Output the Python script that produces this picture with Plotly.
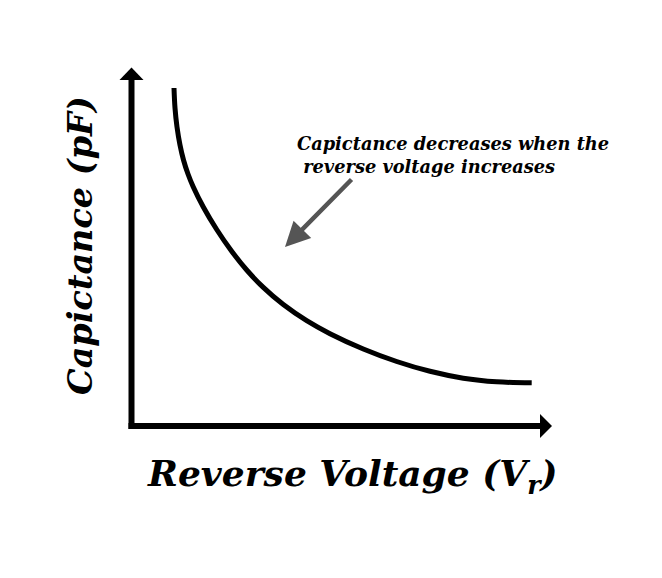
import plotly.graph_objects as go

# Curve data (arbitrary units: reverse voltage vs capacitance)
voltage = [1.0625, 1.0875, 1.1375, 1.2125, 1.30, 1.4125, 1.545, 1.795, 2.13, 2.50, 2.88,
           3.295, 3.795, 4.38, 4.9625, 5.795, 6.63, 7.4625, 8.295, 9.13, 10.005]
capacitance = [8.45, 7.95, 7.475, 7.025, 6.65, 6.30, 5.975, 5.475, 4.9125, 4.375, 3.90,
               3.465, 3.035, 2.6325, 2.3075, 1.925, 1.6125, 1.3675, 1.195, 1.105, 1.08]

x_title = "<b><i>Reverse Voltage (V<sub>r</sub>)</i></b>"
y_title = "<b><i>Capictance (pF)</i></b>"
note = "<b><i>Capictance decreases when the<br> reverse voltage increases</i></b>"

W, H = 662, 578
OX, OY, S = 131.5, 426.0, 40.0  # pixel origin and pixels per unit


def px_x(p):
    return (p - OX) / S


def px_y(p):
    return (OY - p) / S


fig = go.Figure()
fig.add_trace(go.Scatter(x=voltage, y=capacitance, mode="lines",
                         line=dict(color="black", width=5, shape="spline", smoothing=1.0),
                         hoverinfo="skip", showlegend=False))

shapes = [
    # y axis line
    dict(type="line", x0=0, y0=px_y(429), x1=0, y1=px_y(79), line=dict(color="black", width=6)),
    # x axis line
    dict(type="line", x0=px_x(128.5), y0=0, x1=px_x(541), y1=0, line=dict(color="black", width=6)),
    # y arrowhead
    dict(type="path",
         path=f"M {px_x(119.5)} {px_y(80)} L {px_x(143.5)} {px_y(80)} L {px_x(131.5)} {px_y(67.5)} Z",
         fillcolor="black", line=dict(color="black", width=0)),
    # x arrowhead
    dict(type="path",
         path=f"M {px_x(540)} {px_y(414)} L {px_x(540)} {px_y(438)} L {px_x(552)} {px_y(426)} Z",
         fillcolor="black", line=dict(color="black", width=0)),
]

annotations = [
    dict(x=352 / W, y=1 - 476 / H, xref="paper", yref="paper", text=x_title, showarrow=False,
         font=dict(family="DejaVu Serif", size=36, color="black"), xanchor="center", yanchor="middle"),
    dict(x=80 / W, y=1 - 246 / H, xref="paper", yref="paper", text=y_title, showarrow=False, textangle=-90,
         font=dict(family="DejaVu Serif", size=33.5, color="black"), xanchor="center", yanchor="middle"),
    dict(x=295 / W, y=1 - 155 / H, xref="paper", yref="paper", text=note, showarrow=False, align="left",
         font=dict(family="DejaVu Serif", size=17.8, color="black"), xanchor="left", yanchor="middle"),
    dict(x=px_x(285), y=px_y(247), ax=px_x(353), ay=px_y(178), xref="x", yref="y", axref="x", ayref="y",
         text="", showarrow=True, arrowhead=2, arrowsize=1.1, arrowwidth=4.5, arrowcolor="#555555"),
]

fig.update_layout(
    width=W, height=H, margin=dict(l=0, r=0, t=0, b=0),
    paper_bgcolor="white", plot_bgcolor="white",
    xaxis=dict(range=[px_x(0), px_x(W)], visible=False, fixedrange=True),
    yaxis=dict(range=[px_y(H), px_y(0)], visible=False, fixedrange=True),
    shapes=shapes, annotations=annotations,
)

fig.write_html("out.html")
